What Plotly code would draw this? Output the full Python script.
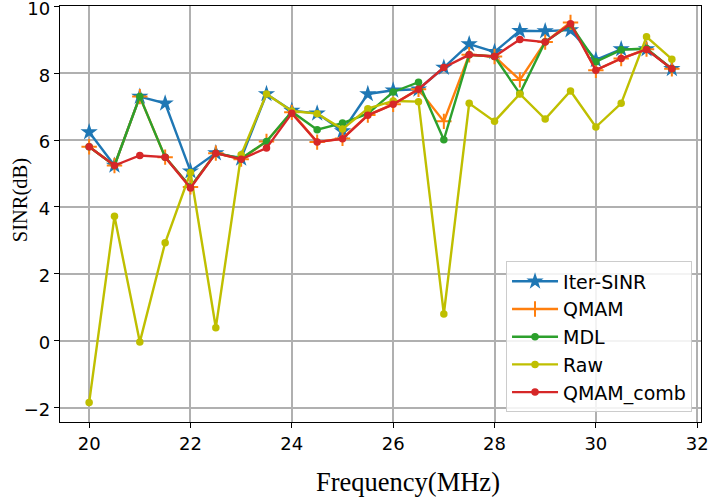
import plotly.graph_objects as go

freq = [20.0, 20.5, 21.0, 21.5, 22.0, 22.5, 23.0, 23.5, 24.0, 24.5, 25.0, 25.5,
        26.0, 26.5, 27.0, 27.5, 28.0, 28.5, 29.0, 29.5, 30.0, 30.5, 31.0, 31.5]

iter_sinr = [6.24, 5.24, 7.30, 7.10, 5.07, 5.61, 5.45, 7.38, 6.88, 6.80, 6.27, 7.38,
             7.49, 7.52, 8.17, 8.87, 8.64, 9.27, 9.26, 9.29, 8.40, 8.72, 8.72, 8.13]
qmam = [5.80, 5.24, 7.30, 5.49, 4.60, 5.61, 5.43, 5.96, 6.83, 5.94, 6.05, 6.75,
        7.07, 7.52, 6.56, 8.55, 8.50, 7.80, 8.93, 9.52, 8.09, 8.44, 8.72, 8.13]
mdl = [5.80, 5.24, 7.30, 5.49, 4.60, 5.61, 5.45, 5.96, 6.85, 6.31, 6.51, 6.79,
       7.44, 7.73, 6.01, 8.55, 8.50, 7.39, 8.94, 9.45, 8.34, 8.70, 8.74, 8.13]
raw = [-1.85, 3.72, -0.04, 2.93, 5.03, 0.39, 5.56, 7.38, 6.87, 6.79, 6.33, 6.94,
       7.17, 7.15, 0.80, 7.10, 6.56, 7.38, 6.63, 7.47, 6.39, 7.10, 9.09, 8.42]
qmam_comb = [5.80, 5.24, 5.54, 5.49, 4.57, 5.61, 5.43, 5.76, 6.80, 5.94, 6.04, 6.74,
             7.07, 7.52, 8.17, 8.55, 8.50, 9.01, 8.93, 9.48, 8.09, 8.44, 8.71, 8.13]

x_ticks = [20, 22, 24, 26, 28, 30, 32]
y_ticks = [-2, 0, 2, 4, 6, 8, 10]

series = [
    ("Iter-SINR", iter_sinr, "#1f77b4", "star", 13, 0),
    ("QMAM", qmam, "#ff7f0e", "cross-thin", 11, 2),
    ("MDL", mdl, "#2ca02c", "circle", 7.5, 0),
    ("Raw", raw, "#bfbf00", "circle", 7.5, 0),
    ("QMAM_comb", qmam_comb, "#d62728", "circle", 7.5, 0),
]

fig = go.Figure()
for name, vals, color, sym, size, lw in series:
    fig.add_trace(go.Scatter(
        x=freq, y=vals, name=name, mode="lines+markers",
        line=dict(color=color, width=2.4),
        marker=dict(symbol=sym, size=size, color=color,
                    line=dict(color=color, width=lw)),
    ))

fig.update_layout(
    width=710, height=502,
    margin=dict(l=60, r=9, t=6, b=80, autoexpand=False),
    plot_bgcolor="white", paper_bgcolor="white",
    showlegend=True,
    legend=dict(
        x=0.986, y=0.023, xanchor="right", yanchor="bottom",
        bgcolor="rgba(255,255,255,0.85)", bordercolor="#cccccc", borderwidth=1,
        font=dict(family="DejaVu Sans", size=19, color="black"),
        itemwidth=46, tracegroupgap=0,
    ),
    annotations=[
        dict(text="Frequency(MHz)", xref="paper", yref="paper",
             x=0.543, y=-0.145, xanchor="center", yanchor="middle",
             showarrow=False,
             font=dict(family="Liberation Serif", size=26.5, color="black")),
        dict(text="SINR(dB)", xref="paper", yref="paper", textangle=-90,
             x=-0.0625, y=0.533, xanchor="center", yanchor="middle",
             showarrow=False,
             font=dict(family="Liberation Serif", size=20.5, color="black")),
    ],
)
fig.update_xaxes(
    range=[19.425, 32.075], tickvals=x_ticks, automargin=False,
    ticklabeloverflow="allow",
    showgrid=True, gridcolor="#b0b0b0", gridwidth=1.5,
    showline=True, linecolor="black", linewidth=1.3, mirror=True,
    ticks="outside", ticklen=5, tickwidth=1.3, tickcolor="black",
    tickfont=dict(family="DejaVu Sans", size=18, color="black"),
    zeroline=False,
)
fig.update_yaxes(
    range=[-2.43, 10.01], tickvals=y_ticks, automargin=False,
    ticklabeloverflow="allow", ticklabelshift=2,
    showgrid=True, gridcolor="#b0b0b0", gridwidth=1.5,
    showline=True, linecolor="black", linewidth=1.3, mirror=True,
    ticks="outside", ticklen=5, tickwidth=1.3, tickcolor="black",
    tickfont=dict(family="DejaVu Sans", size=18, color="black"),
    zeroline=False,
)

fig.write_html("out.html", config={"displayModeBar": False},
               post_script="document.body.style.margin='0';document.body.style.overflow='hidden';")
